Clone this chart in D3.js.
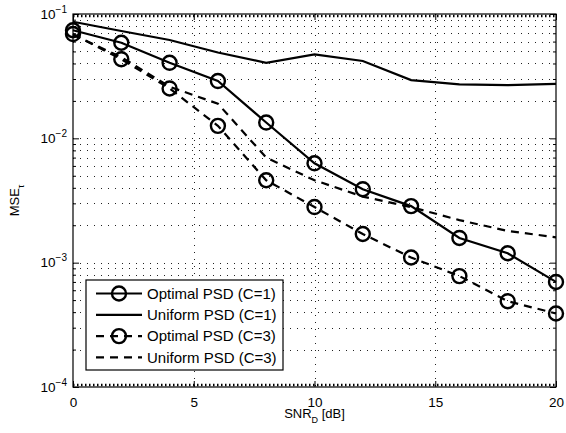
<!DOCTYPE html>
<html>
<head>
<meta charset="utf-8">
<style>
  body { margin: 0; background: #fff; }
  svg { font-family: "Liberation Sans", Arial, sans-serif; }
</style>
</head>
<body>
<svg width="566" height="433"></svg>
<script src="https://d3js.org/d3.v7.min.js"></script>
<script>
  // values
  var snr = [0, 2, 4, 6, 8, 10, 12, 14, 16, 18, 20];
  var optimalC1 = [0.074, 0.0587, 0.0405, 0.0289, 0.0134, 0.0063, 0.0039, 0.00285, 0.00158, 0.00119, 0.00070];
  var uniformC1 = [0.0867, 0.073, 0.0618, 0.049, 0.0405, 0.0473, 0.0419, 0.0294, 0.0272, 0.0268, 0.0274];
  var optimalC3 = [0.069, 0.0433, 0.0252, 0.0126, 0.0046, 0.0028, 0.0017, 0.0011, 0.00078, 0.00049, 0.00039];
  var uniformC3 = [0.068, 0.045, 0.026, 0.019, 0.0070, 0.0046, 0.0034, 0.0028, 0.0022, 0.0018, 0.0016];

  var xTicks = [0, 5, 10, 15, 20];
  var yTicks = [1e-4, 1e-3, 1e-2, 1e-1];
  var yExponents = ["\u22124", "\u22123", "\u22122", "\u22121"];
  var legendLabels = ["Optimal PSD (C=1)", "Uniform PSD (C=1)", "Optimal PSD (C=3)", "Uniform PSD (C=3)"];

  var svg = d3.select("svg"),
      margin = {top: 14, right: 10, bottom: 46, left: 73},
      width = +svg.attr("width") - margin.left - margin.right,
      height = +svg.attr("height") - margin.top - margin.bottom,
      g = svg.append("g").attr("transform", "translate(" + margin.left + "," + margin.top + ")");

  var x = d3.scaleLinear().domain([0, 20]).range([0, width]);
  var y = d3.scaleLog().domain([1e-4, 1e-1]).range([height, 0]);

  // minor log positions
  var yMinor = [];
  yTicks.slice(0, 3).forEach(function(t) {
    for (var k = 2; k <= 9; k++) yMinor.push(t * k);
  });

  // dotted grid
  var grid = g.append("g")
      .attr("stroke", "#222")
      .attr("stroke-width", 1)
      .attr("stroke-dasharray", "1,6");
  grid.selectAll(".gy")
    .data(yTicks.slice(1, 3).concat(yMinor))
    .enter().append("line")
      .attr("x1", 0).attr("x2", width)
      .attr("y1", function(d) { return Math.round(y(d)) + 0.5; })
      .attr("y2", function(d) { return Math.round(y(d)) + 0.5; });
  grid.selectAll(".gx")
    .data(xTicks.slice(1, 4))
    .enter().append("line")
      .attr("y1", 0).attr("y2", height)
      .attr("x1", function(d) { return Math.round(x(d)) + 0.5; })
      .attr("x2", function(d) { return Math.round(x(d)) + 0.5; });

  // fine minor ticks along top/bottom edges
  g.append("line").attr("x1", 0).attr("x2", width).attr("y1", 2).attr("y2", 2)
      .attr("stroke", "#000").attr("stroke-width", 2.5).attr("stroke-dasharray", "1.5,2.5");
  g.append("line").attr("x1", 0).attr("x2", width).attr("y1", height - 2).attr("y2", height - 2)
      .attr("stroke", "#000").attr("stroke-width", 2.5).attr("stroke-dasharray", "1.5,2.5");

  // axes, ticks inside like matlab
  var xAxis = g.append("g")
      .attr("transform", "translate(0," + height + ")")
      .call(d3.axisBottom(x).tickValues(xTicks).tickSizeInner(-6).tickSizeOuter(0).tickPadding(10));
  g.append("g")
      .call(d3.axisTop(x).tickValues(xTicks).tickSizeInner(-6).tickSizeOuter(0).tickFormat(""));

  var yAxis = g.append("g")
      .call(d3.axisLeft(y).tickValues(yTicks).tickSizeInner(-6).tickSizeOuter(0).tickPadding(6));
  g.append("g")
      .call(d3.axisLeft(y).tickValues(yMinor).tickSizeInner(-3).tickSizeOuter(0).tickFormat(""));
  g.append("g")
      .attr("transform", "translate(" + width + ",0)")
      .call(d3.axisRight(y).tickValues(yTicks).tickSizeInner(-6).tickSizeOuter(0).tickFormat(""));
  g.append("g")
      .attr("transform", "translate(" + width + ",0)")
      .call(d3.axisRight(y).tickValues(yMinor).tickSizeInner(-3).tickSizeOuter(0).tickFormat(""));

  g.selectAll(".domain").remove();
  g.selectAll(".tick line").attr("stroke", "#000");
  g.selectAll(".tick text").attr("fill", "#000").attr("font-size", 13.5)
      .attr("font-family", "Liberation Sans, Arial, sans-serif");

  // 10^n labels
  yAxis.selectAll(".tick text").each(function(d, i) {
    var t = d3.select(this).text("");
    t.append("tspan").text("10");
    t.append("tspan").attr("dy", -6).attr("font-size", 10).text(yExponents[i]);
  });

  // frame
  g.append("rect")
      .attr("x", 0).attr("y", 0).attr("width", width).attr("height", height)
      .attr("fill", "none").attr("stroke", "#000").attr("stroke-width", 1.2);

  // series
  var series = [
    {values: optimalC1, dash: null, marker: true},
    {values: uniformC1, dash: null, marker: false},
    {values: optimalC3, dash: "8,6", marker: true},
    {values: uniformC3, dash: "8,6", marker: false}
  ];

  var line = d3.line()
      .x(function(d) { return x(d[0]); })
      .y(function(d) { return y(d[1]); });

  series.forEach(function(s) {
    var pts = snr.map(function(v, i) { return [v, s.values[i]]; });
    g.append("path")
        .datum(pts)
        .attr("fill", "none")
        .attr("stroke", "#000")
        .attr("stroke-width", 2.2)
        .attr("stroke-dasharray", s.dash)
        .attr("d", line);
    if (s.marker) {
      g.selectAll(null)
        .data(pts)
        .enter().append("circle")
          .attr("cx", function(d) { return x(d[0]); })
          .attr("cy", function(d) { return y(d[1]); })
          .attr("r", 7)
          .attr("fill", "none")
          .attr("stroke", "#000")
          .attr("stroke-width", 2.4);
    }
  });

  // axis labels
  var xl = svg.append("text")
      .attr("x", margin.left + width / 2)
      .attr("y", 418)
      .attr("text-anchor", "middle")
      .attr("font-size", 13);
  xl.append("tspan").text("SNR");
  xl.append("tspan").attr("dy", 5).attr("font-size", 9).text("D");
  xl.append("tspan").attr("dy", -5).text(" [dB]");

  var yl = svg.append("text")
      .attr("transform", "translate(19," + (margin.top + height / 2) + ") rotate(-90)")
      .attr("text-anchor", "middle")
      .attr("font-size", 13);
  yl.append("tspan").text("MSE");
  yl.append("tspan").attr("dy", 5).attr("font-size", 9).text("\u03c4");

  // legend
  var legend = g.append("g").attr("transform", "translate(13,266)");
  legend.append("rect")
      .attr("width", 197).attr("height", 90)
      .attr("fill", "#fff").attr("stroke", "#000").attr("stroke-width", 1.2);
  series.forEach(function(s, i) {
    var row = legend.append("g").attr("transform", "translate(0," + (13.5 + i * 21.3) + ")");
    row.append("line")
        .attr("x1", 10).attr("x2", 56)
        .attr("stroke", "#000").attr("stroke-width", 2.2)
        .attr("stroke-dasharray", s.dash);
    if (s.marker) {
      row.append("circle").attr("cx", 33).attr("r", 7)
          .attr("fill", "none").attr("stroke", "#000").attr("stroke-width", 2.4);
    }
    row.append("text")
        .attr("x", 61).attr("dy", "0.35em")
        .attr("font-size", 15)
        .text(legendLabels[i]);
  });
</script>
</body>
</html>
